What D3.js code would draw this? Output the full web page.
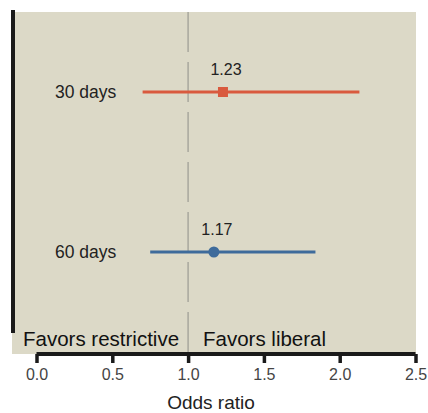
<!DOCTYPE html>
<html>
<head>
<meta charset="utf-8">
<script src="https://cdn.jsdelivr.net/npm/d3@7"></script>
<style>
  body { margin: 0; background: #fff; }
  text { font-family: "Liberation Sans", Arial, sans-serif; }
</style>
</head>
<body>
<div id="chart"></div>
<script>
// Data
const groups = ["30 days", "60 days"];
const oddsRatios = [1.23, 1.17];
const lowerCI = [0.70, 0.75];
const upperCI = [2.13, 1.84];
const markerShapes = ["square", "circle"];
const colors = ["#d95a3e", "#3e6b9b"];
const xTicks = [0, 0.5, 1.0, 1.5, 2.0, 2.5];

const W = 428, H = 413;

const svg = d3.select("#chart")
  .append("svg")
    .attr("width", W)
    .attr("height", H);

// Scales
const x = d3.scaleLinear()
  .domain([0, 2.5])
  .range([36.5, 415.5]);

const y = d3.scalePoint()
  .domain(groups)
  .range([92, 252]);

// Panel background
svg.append("rect")
  .attr("x", 12)
  .attr("y", 12)
  .attr("width", 404)
  .attr("height", 342)
  .attr("fill", "#dcd9c7");

// Reference line at OR = 1
svg.append("line")
  .attr("x1", x(1)).attr("x2", x(1))
  .attr("y1", 12).attr("y2", 354)
  .attr("stroke", "#a9a79d")
  .attr("stroke-width", 1.5)
  .attr("stroke-dasharray", "40,10");

// Left black bar
svg.append("line")
  .attr("x1", 13).attr("x2", 13)
  .attr("y1", 10).attr("y2", 333)
  .attr("stroke", "#1a1a1a")
  .attr("stroke-width", 4);

// x axis
const xAxis = svg.append("g")
  .attr("transform", "translate(0,354)")
  .call(d3.axisBottom(x)
    .tickValues(xTicks)
    .tickFormat(d3.format(".1f"))
    .tickSize(9)
    .tickPadding(6));

xAxis.select(".domain")
  .attr("d", `M${x(0)},0H${x(2.5)}`)
  .attr("stroke", "#1a1a1a")
  .attr("stroke-width", 4);
xAxis.selectAll(".tick line")
  .attr("stroke", "#1a1a1a")
  .attr("stroke-width", 3.5);
xAxis.selectAll(".tick text")
  .attr("fill", "#444")
  .style("font-size", "16px");

svg.append("text")
  .attr("x", 211)
  .attr("y", 409)
  .attr("text-anchor", "middle")
  .attr("fill", "#222")
  .style("font-size", "19px")
  .text("Odds ratio");

// Favors labels
svg.append("text")
  .attr("x", 23)
  .attr("y", 346)
  .attr("fill", "#111")
  .style("font-size", "20.5px")
  .text("Favors restrictive");

svg.append("text")
  .attr("x", 203)
  .attr("y", 346)
  .attr("fill", "#111")
  .style("font-size", "20.5px")
  .text("Favors liberal");

// Rows
const rows = svg.selectAll(".row")
  .data(groups)
  .enter()
  .append("g")
    .attr("class", "row");

rows.append("text")
  .attr("x", 55)
  .attr("y", d => y(d) + 6)
  .attr("fill", "#222")
  .style("font-size", "17.5px")
  .text(d => d);

rows.append("line")
  .attr("x1", (d, i) => x(lowerCI[i]))
  .attr("x2", (d, i) => x(upperCI[i]))
  .attr("y1", d => y(d))
  .attr("y2", d => y(d))
  .attr("stroke", (d, i) => colors[i])
  .attr("stroke-width", 3);

rows.each(function(d, i) {
  const g = d3.select(this);
  if (markerShapes[i] === "square") {
    g.append("rect")
      .attr("x", x(oddsRatios[i]) - 5)
      .attr("y", y(d) - 5)
      .attr("width", 10)
      .attr("height", 10)
      .attr("fill", colors[i]);
  } else {
    g.append("circle")
      .attr("cx", x(oddsRatios[i]))
      .attr("cy", y(d))
      .attr("r", 5.5)
      .attr("fill", colors[i]);
  }
});

rows.append("text")
  .attr("x", (d, i) => x(oddsRatios[i]) + 3)
  .attr("y", d => y(d) - 17)
  .attr("text-anchor", "middle")
  .attr("fill", "#222")
  .style("font-size", "16px")
  .text((d, i) => oddsRatios[i].toFixed(2));
</script>
</body>
</html>
